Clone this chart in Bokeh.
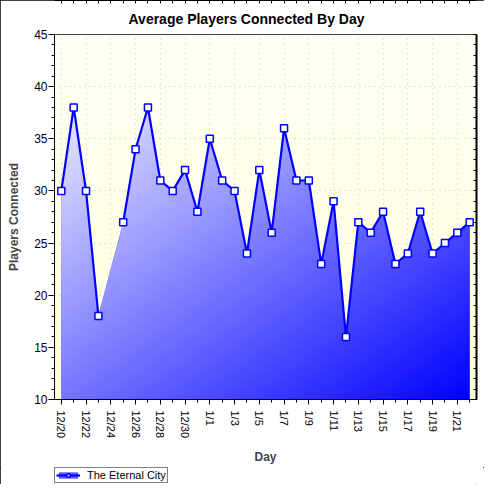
import numpy as np
from bokeh.plotting import figure
from bokeh.layouts import column
from bokeh.models import (Range1d, FixedTicker, LinearAxis, Legend, LegendItem, Title)
from bokeh.embed import file_html
from bokeh.resources import INLINE

# ---------------- data ----------------
days = ["12/20", "12/21", "12/22", "12/23", "12/24", "12/25", "12/26", "12/27",
        "12/28", "12/29", "12/30", "12/31", "1/1", "1/2", "1/3", "1/4", "1/5",
        "1/6", "1/7", "1/8", "1/9", "1/10", "1/11", "1/12", "1/13", "1/14",
        "1/15", "1/16", "1/17", "1/18", "1/19", "1/20", "1/21", "1/22"]
players = [30, 38, 30, 18, None, 27, 34, 38, 31, 30, 32, 28, 35, 31, 30, 24, 32,
           26, 36, 31, 31, 23, 29, 16, 27, 26, 28, 23, 24, 28, 24, 25, 26, 27]
series_name = "The Eternal City"
title_text = "Average Players Connected By Day"
x_title = "Day"
y_title = "Players Connected"
y_ticks = [10, 15, 20, 25, 30, 35, 40, 45]
y_minor = list(range(10, 46))

idx = np.arange(len(days))
vals = np.array([np.nan if v is None else v for v in players], dtype=float)
ok = ~np.isnan(vals)
x_ok = idx[ok].astype(float)
y_ok = vals[ok]
x_major = [int(i) for i in idx[::2]]
x_all = [int(i) for i in idx]

FONT = "Liberation Sans"
BLUE = "#0000ff"
AREA = "#5c5cff"

p = figure(width=484, height=467, title=None,
           x_range=Range1d(-0.55, len(days) - 1 + 0.55), y_range=Range1d(10, 45),
           output_backend="svg", toolbar_location=None,
           min_border_left=54, min_border_right=8, min_border_top=34, min_border_bottom=67,
           background_fill_color="#FFFFE6", border_fill_color="white",
           outline_line_color="black")

# ---------- title ----------
p.add_layout(Title(text=title_text, align="left", offset=74, standoff=16,
                   text_font=FONT, text_font_style="bold", text_font_size="14px",
                   text_color="black"), "above")

# ---------- background gradient (cream -> lighter) ----------
ny_bg = 366
tb = np.linspace(1, 0, ny_bg)  # row 0 at bottom
bg = np.zeros((ny_bg, 1), dtype=np.uint32)
bgv = bg.view(dtype=np.uint8).reshape((ny_bg, 1, 4))
bgv[:, 0, 0] = 255
bgv[:, 0, 1] = 255
bgv[:, 0, 2] = (246 - 28 * tb).astype(np.uint8)
bgv[:, 0, 3] = 255
p.image_rgba(image=[bg], x=p.x_range.start, y=p.y_range.start,
             dw=p.x_range.end - p.x_range.start, dh=p.y_range.end - p.y_range.start,
             level="image")

# ---------- grid ----------
p.xgrid[0].ticker = FixedTicker(ticks=x_major)
p.ygrid[0].ticker = FixedTicker(ticks=y_ticks)
for g in (p.xgrid[0], p.ygrid[0]):
    g.grid_line_color = "#c8c8c8"
    g.grid_line_dash = "1 4"
    g.grid_line_width = 1

# ---------- area (solid base, gradient overlay) ----------
p.varea(x=x_ok, y1=10, y2=y_ok, fill_color=AREA)

x0, x1 = x_ok.min(), x_ok.max()
ytop = y_ok.max()
nx, ny = 408, 293
dx = (x1 - x0) / nx
dy = (ytop - 10) / ny
xc = x0 + (np.arange(nx) + 0.5) * dx
yc = 10 + (np.arange(ny) + 0.5) * dy
top = np.interp(xc, x_ok, y_ok)
X, Y = np.meshgrid(xc, yc)
T = np.broadcast_to(top, (ny, nx))
alpha = np.clip((T - (Y - dy / 2)) / dy, 0, 1)
t = 0.5 * ((X - x0) / (x1 - x0) + (ytop - Y) / (ytop - 10))
t = np.clip(t, 0, 1)
img = np.zeros((ny, nx), dtype=np.uint32)
v = img.view(dtype=np.uint8).reshape((ny, nx, 4))
rg = (236 * (1 - t)).astype(np.uint8)
v[:, :, 0] = rg
v[:, :, 1] = rg
v[:, :, 2] = 255
v[:, :, 3] = (alpha * 255).astype(np.uint8)
p.image_rgba(image=[img], x=x0, y=10, dw=x1 - x0, dh=ytop - 10)

# ---------- line + markers ----------
p.line(x=idx, y=vals, line_color=BLUE, line_width=2.2)
p.scatter(x=x_ok, y=y_ok, marker="square", size=7, fill_color="white",
          line_color=BLUE, line_width=1.5)

# ---------- axes ----------
xa = p.xaxis[0]
xa.ticker = FixedTicker(ticks=x_major, minor_ticks=x_all)
xa.major_label_overrides = {i: days[i] for i in x_major}
xa.major_label_orientation = "vertical"
xa.major_label_text_font = FONT
xa.major_label_text_font_size = "11px"
xa.major_label_text_color = "black"
xa.major_label_standoff = 6
xa.major_tick_out = 5
xa.major_tick_in = 0
xa.minor_tick_out = 3
xa.minor_tick_in = 0
xa.axis_label = x_title
xa.axis_label_text_font = FONT
xa.axis_label_text_font_style = "bold"
xa.axis_label_text_font_size = "12px"
xa.axis_label_standoff = 9

ya = p.yaxis[0]
ya.ticker = FixedTicker(ticks=y_ticks, minor_ticks=y_minor)
ya.major_label_text_font = FONT
ya.major_label_text_font_size = "12px"
ya.major_label_text_color = "black"
ya.major_label_standoff = 1
ya.major_tick_out = 6
ya.major_tick_in = 0
ya.minor_tick_out = 3
ya.minor_tick_in = 0
ya.axis_label = y_title
ya.axis_label_text_font = FONT
ya.axis_label_text_font_style = "bold"
ya.axis_label_text_font_size = "12px"
ya.axis_label_standoff = 10

for a in (xa, ya):
    a.axis_line_color = "black"
    a.major_tick_line_color = "black"
    a.minor_tick_line_color = "black"

top_axis = LinearAxis(ticker=FixedTicker(ticks=[], minor_ticks=x_all),
                      major_tick_in=0, major_tick_out=0, minor_tick_in=3, minor_tick_out=0,
                      axis_line_color="black", minor_tick_line_color="black")
p.add_layout(top_axis, "above")
right_axis = LinearAxis(ticker=FixedTicker(ticks=[], minor_ticks=y_minor),
                        major_tick_in=0, major_tick_out=0, minor_tick_in=3, minor_tick_out=0,
                        axis_line_color="black", axis_line_width=2,
                        minor_tick_line_color="black")
p.add_layout(right_axis, "right")

# ---------- legend strip (below the chart) ----------
# same series drawn in a strip whose y range excludes it, so only the legend shows
lf = figure(width=484, height=17, x_range=p.x_range, y_range=Range1d(0, 1),
            output_backend="svg", toolbar_location=None,
            min_border_left=54, min_border_right=0, min_border_top=0, min_border_bottom=0,
            outline_line_color=None, background_fill_color="white",
            border_fill_color="white")
lf.axis.visible = False
lf.grid.visible = False
lg_area = lf.varea(x=x_ok, y1=10, y2=y_ok, fill_color=AREA)
lg_line = lf.line(x=idx, y=vals, line_color=BLUE, line_width=2.2)
lg_pts = lf.scatter(x=x_ok, y=y_ok, marker="square", size=7, fill_color="white",
                    line_color=BLUE, line_width=1.5)
legend = Legend(items=[LegendItem(label=series_name, renderers=[lg_area, lg_line, lg_pts])],
                location=(0, 1), orientation="horizontal",
                label_text_font=FONT, label_text_font_size="11px", label_text_color="black",
                glyph_width=24, glyph_height=8, label_height=9, label_standoff=7,
                padding=1, margin=0, spacing=0,
                border_line_color="black", border_line_width=1,
                background_fill_color="white", background_fill_alpha=1)
lf.add_layout(legend)

layout = column(p, lf, spacing=0)
layout.styles = {"outline": "1px solid black", "outline-offset": "-1px"}

open("out.html", "w").write(file_html(layout, INLINE))
